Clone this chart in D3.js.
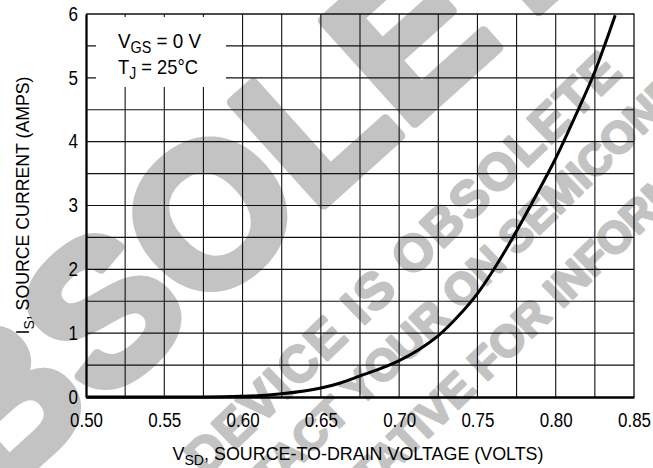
<!DOCTYPE html>
<html>
<head>
<meta charset="utf-8">
<script src="https://cdn.jsdelivr.net/npm/d3@7"></script>
<style>
  body { margin: 0; background: #fff; }
  text { font-family: "Liberation Sans", Arial, sans-serif; fill: #000; }
  .wm { font-weight: bold; fill: #c3c3c3; stroke: #c3c3c3; stroke-linejoin: round; }
</style>
</head>
<body>
<div id="chart"></div>
<script>
// source-drain diode forward voltage vs current
var vsd = [0.50, 0.575, 0.60, 0.625, 0.65, 0.6625, 0.675, 0.6875, 0.70, 0.7125, 0.725, 0.7375,
           0.75, 0.7625, 0.775, 0.7875, 0.80, 0.8125, 0.825, 0.838];
var is = [0, 0, 0.01, 0.05, 0.14, 0.22, 0.33, 0.44, 0.57, 0.74, 0.96, 1.26,
          1.62, 2.08, 2.6, 3.16, 3.74, 4.40, 5.10, 5.98];

var xTicks = [0.50, 0.55, 0.60, 0.65, 0.70, 0.75, 0.80, 0.85];
var yTicks = [0, 1, 2, 3, 4, 5, 6];
var xGrid = d3.range(1, 14).map(function(i) { return 0.50 + i * 0.025; });
var yGrid = d3.range(1, 12).map(function(i) { return i * 0.5; });

var legendLines = [["V", "GS", " = 0 V"], ["T", "J", " = 25°C"]];
var wmWord = "OBSOLETE";
var wmLines = ["THIS DEVICE IS OBSOLETE", "CONTACT YOUR ON SEMICONDUCTOR", "REPRESENTATIVE FOR INFORMATION"];

var margin = {top: 14, right: 19, bottom: 71, left: 86};
var width = 653 - margin.left - margin.right,
    height = 468 - margin.top - margin.bottom;

var root = d3.select("#chart").append("svg")
    .attr("width", 653)
    .attr("height", 468);

// watermark first, the chart is drawn over it
var wm = root.append("g");
wm.append("text")
    .attr("class", "wm")
    .attr("transform", "translate(237,186) rotate(-42)")
    .attr("text-anchor", "middle")
    .attr("dy", "0.36em")
    .style("font-size", "200px")
    .style("stroke-width", "10px")
    .text(wmWord);

var wmPos = [[352, 311], [488, 262], [478, 368]];
wm.selectAll(".wm-line")
    .data(wmLines)
    .enter()
    .append("text")
    .attr("class", "wm wm-line")
    .attr("transform", function(d, i) {
        return "translate(" + wmPos[i][0] + "," + wmPos[i][1] + ") rotate(-44)";
    })
    .attr("text-anchor", "middle")
    .attr("dy", "0.36em")
    .style("font-size", function(d, i) { return i === 0 ? "51px" : "44px"; })
    .style("letter-spacing", function(d, i) { return i === 0 ? "2px" : "0px"; })
    .style("stroke-width", "2.5px")
    .text(function(d) { return d; });

var svg = root.append("g")
    .attr("transform", "translate(" + margin.left + "," + margin.top + ")");

var x = d3.scaleLinear().domain([0.50, 0.85]).range([0, width]);
var y = d3.scaleLinear().domain([0, 6]).range([height, 0]);

// grid
svg.selectAll(".vgrid")
    .data(xGrid)
    .enter()
    .append("line")
    .attr("x1", function(d) { return x(d); })
    .attr("x2", function(d) { return x(d); })
    .attr("y1", 0)
    .attr("y2", height)
    .attr("stroke", "#111")
    .attr("stroke-width", 1.1);

svg.selectAll(".hgrid")
    .data(yGrid)
    .enter()
    .append("line")
    .attr("x1", 0)
    .attr("x2", width)
    .attr("y1", function(d) { return y(d); })
    .attr("y2", function(d) { return y(d); })
    .attr("stroke", "#111")
    .attr("stroke-width", 1.1);

// top and right frame
svg.append("path")
    .attr("d", "M0,0H" + width + "V" + height)
    .attr("fill", "none")
    .attr("stroke", "#111")
    .attr("stroke-width", 1.3);

// legend box blanks the grid behind it
svg.append("rect")
    .attr("x", 10)
    .attr("y", 3)
    .attr("width", 130)
    .attr("height", 70)
    .attr("fill", "#fff");

var legendWidths = [83, 80];
var legend = svg.selectAll(".legend")
    .data(legendLines)
    .enter()
    .append("text")
    .attr("x", 32)
    .attr("y", function(d, i) { return 34 + i * 26; })
    .attr("textLength", function(d, i) { return legendWidths[i]; })
    .attr("lengthAdjust", "spacingAndGlyphs")
    .style("font-size", "21px");
legend.append("tspan").text(function(d) { return d[0]; });
legend.append("tspan")
    .attr("dy", 5)
    .style("font-size", "16px")
    .text(function(d) { return d[1]; });
legend.append("tspan")
    .attr("dy", -5)
    .text(function(d) { return d[2]; });

// axes
var xAxis = d3.axisBottom(x).tickValues(xTicks).tickSize(0).tickPadding(16).tickFormat(d3.format(".2f"));
var yAxis = d3.axisLeft(y).tickValues(yTicks).tickSize(0).tickPadding(8).tickFormat(d3.format("d"));

svg.append("g")
    .attr("class", "x-axis axis")
    .attr("transform", "translate(0," + height + ")")
    .call(xAxis)
    .call(function(g) {
        g.select(".domain").attr("stroke", "#000").attr("stroke-width", 2.7);
        g.selectAll("text")
            .style("font-size", "19.5px")
            .attr("fill", "#000")
            .attr("textLength", 33)
            .attr("lengthAdjust", "spacingAndGlyphs");
    });

svg.append("g")
    .attr("class", "y-axis axis")
    .call(yAxis)
    .call(function(g) {
        g.select(".domain").attr("stroke", "#000").attr("stroke-width", 2.3);
        g.selectAll("text")
            .style("font-size", "19.5px")
            .attr("fill", "#000")
            .attr("textLength", 9.5)
            .attr("lengthAdjust", "spacingAndGlyphs");
    });

// curve
var line = d3.line()
    .x(function(d) { return x(d[0]); })
    .y(function(d) { return y(d[1]); })
    .curve(d3.curveMonotoneX);

svg.append("path")
    .datum(d3.zip(vsd, is))
    .attr("d", line)
    .attr("fill", "none")
    .attr("stroke", "#000")
    .attr("stroke-width", 3);

// axis titles
var xt = svg.append("text")
    .attr("x", width / 2 - 2)
    .attr("y", height + 63)
    .attr("text-anchor", "middle")
    .attr("textLength", 371)
    .attr("lengthAdjust", "spacingAndGlyphs")
    .style("font-size", "19px");
xt.append("tspan").text("V");
xt.append("tspan").attr("dy", 5).style("font-size", "15px").text("SD");
xt.append("tspan").attr("dy", -5).text(", SOURCE-TO-DRAIN VOLTAGE (VOLTS)");

var yt = svg.append("text")
    .attr("transform", "translate(-57," + (height / 2) + ") rotate(-90)")
    .attr("text-anchor", "middle")
    .attr("textLength", 258)
    .attr("lengthAdjust", "spacingAndGlyphs")
    .style("font-size", "19px");
yt.append("tspan").text("I");
yt.append("tspan").attr("dy", 5).style("font-size", "15px").text("S");
yt.append("tspan").attr("dy", -5).text(", SOURCE CURRENT (AMPS)");
</script>
</body>
</html>
